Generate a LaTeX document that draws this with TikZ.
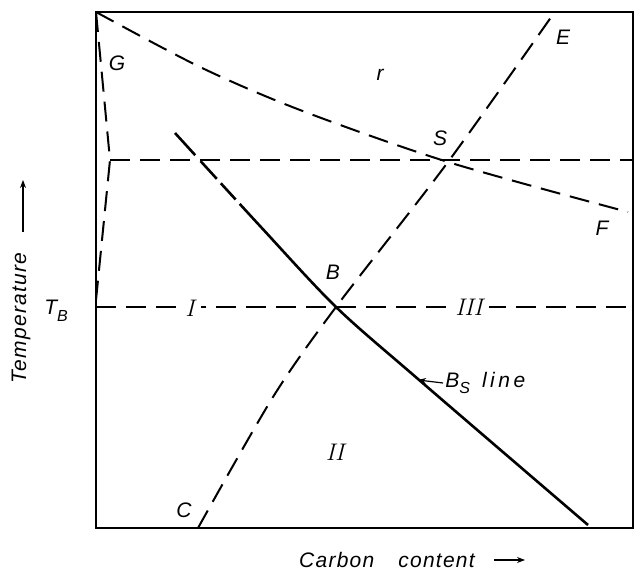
\documentclass[tikz,border=0pt]{standalone}
\usepackage{fontspec}
\newfontfamily\lettering{Liberation Sans}[LetterSpace=6]
\usetikzlibrary{arrows.meta}
\begin{document}
\begin{tikzpicture}[x=0.5pt, y=-0.5pt,
  lbl/.style={font=\lettering\itshape\fontsize{10.5}{12}\selectfont, inner sep=1pt},
  num/.style={font=\rmfamily\itshape\fontsize{12}{14}\selectfont, fill=white, inner sep=3pt},
  phase/.style={line width=1pt, dash pattern=on 10pt off 5pt},
  bsline/.style={line width=1.3pt, dash pattern=on 15pt off 4pt on 12pt off 3pt on 11pt off 3pt on 500pt}]
\useasboundingbox (0,0) rectangle (643,577);

% key points of the diagram
\coordinate (Gtop) at (96,12);
\coordinate (Gknee) at (110,160);
\coordinate (Gfoot) at (96,300);
\coordinate (S) at (448,162);
\coordinate (B) at (336,307);
\coordinate (Cend) at (198,528);
\coordinate (Eend) at (554,13);
\coordinate (Fend) at (628,212);
\coordinate (Bstop) at (175,133);
\coordinate (Bsend) at (588,525);
\coordinate (TBleft) at (96,307);
\coordinate (TBright) at (633,307);
\coordinate (Sright) at (633,160);

% frame
\draw[line width=0.9pt] (96,12) rectangle (633,528);

% phase boundaries
\draw[phase] (Gtop) -- (Gknee) -- (Gfoot);
\draw[phase] (Gknee) -- (Sright);
\draw[phase] (TBleft) -- (TBright);
\draw[phase] plot[smooth] coordinates {(Gtop) (200,67) (300,110) (S) (Fend)};
\draw[phase] plot[smooth] coordinates {(Cend) (273,397) (B) (S) (Eend)};
\draw[bsline] plot[smooth] coordinates {(Bstop) (260,226) (B) (418,379) (Bsend)};

% labels
\node[lbl] (lG) at (117,63) {G};
\node[lbl] (lr) at (380,75) {r};
\node[lbl] (lS) at (440,138) {S};
\node[lbl] (lE) at (563,37) {E};
\node[lbl] (lF) at (602,228) {F};
\node[lbl] (lB) at (333,272) {B};
\node[lbl] (lC) at (184,510) {C};
\node[lbl] (lTB) at (56,311) {T\raisebox{-0.6ex}{\fontsize{8}{9}\selectfont B}};
\node[num] (lI) at (190,308) {I};
\node[num] (lII) at (335,452) {II};
\node[num] (lIII) at (469,307) {III};
\node[lbl, anchor=west] (lBs) at (443,383) {B\raisebox{-0.6ex}{\fontsize{8}{9}\selectfont S}\hspace{6pt}l\,i\,n\,e};
\draw[-{Stealth[length=4pt]}, line width=0.6pt] (lBs.west) -- (418,380);

% axes
\node[lbl, rotate=90] (temp) at (21,318) {Temperature};
\coordinate (tup) at (23,180);
\draw[-{Stealth[length=4pt]}, line width=0.6pt] (23,232) -- (tup);
\node[lbl] (carbon) at (387,560) {Carbon\hspace{12pt}content};
\coordinate (cright) at (525,560);
\draw[-{Stealth[length=4pt]}, line width=0.6pt] (494,560) -- (cright);
\end{tikzpicture}
\end{document}
